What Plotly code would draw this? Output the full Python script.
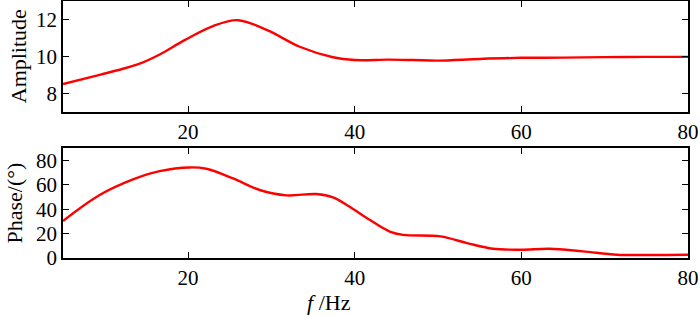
import plotly.graph_objects as go

# Amplitude curve
freq_amp = [5, 9.4, 12, 14.2, 16.6, 19.6, 23, 26, 29.5, 33.4, 37.4, 40, 44, 47, 50, 55, 60, 65, 70, 75, 80]
amplitude = [8.5, 9.0, 9.3, 9.6, 10.1, 10.88, 11.64, 11.96, 11.42, 10.52, 9.95, 9.8, 9.82, 9.8, 9.77, 9.86, 9.92, 9.93, 9.96, 9.97, 9.97]

# Phase curve
freq_ph = [5, 9.4, 13.4, 16.6, 20.2, 22.2, 25.4, 28.6, 31.8, 35.4, 37.4, 39.4, 41.8, 44.2, 45.8, 50.3, 53.5, 56.6, 60, 63.4, 67.4, 71.5, 75.4, 80]
phase = [30.4, 51.7, 64.5, 71.3, 74.3, 73.2, 65.3, 55.8, 51.4, 52.5, 49.8, 42.1, 31.3, 21.7, 19.0, 17.7, 12.2, 7.6, 6.8, 7.6, 5.4, 2.7, 2.5, 2.7]

x_ticks = [20, 40, 60, 80]
amp_ticks = [8, 10, 12]
ph_ticks = [0, 20, 40, 60, 80]

FONT = "Liberation Serif"
RED = "#ff0000"

fig = go.Figure()
fig.add_trace(go.Scatter(x=freq_amp, y=amplitude, mode="lines", line=dict(color=RED, width=2.4, shape="spline", smoothing=1.0),
                         xaxis="x", yaxis="y", showlegend=False, hoverinfo="skip"))
fig.add_trace(go.Scatter(x=freq_ph, y=phase, mode="lines", line=dict(color=RED, width=2.4, shape="spline", smoothing=1.0),
                         xaxis="x2", yaxis="y2", showlegend=False, hoverinfo="skip"))

axis_common = dict(showline=True, linecolor="black", linewidth=1.6, mirror="ticks", ticks="inside", ticklen=6,
                   tickwidth=1.3, tickcolor="black", showgrid=False, zeroline=False, automargin=False,
                   tickfont=dict(family=FONT, size=21, color="black"))

fig.update_layout(
    width=700, height=315,
    margin=dict(l=63, r=12, t=1, b=57),
    paper_bgcolor="white", plot_bgcolor="white",
    xaxis=dict(domain=[0, 1], range=[5, 80], tickvals=x_ticks, anchor="y", **axis_common),
    yaxis=dict(domain=[0.5693, 1], range=[7, 13], tickvals=amp_ticks, anchor="x", **axis_common),
    xaxis2=dict(domain=[0, 1], range=[5, 80], tickvals=x_ticks, anchor="y2", **axis_common),
    yaxis2=dict(domain=[0, 0.4268], range=[0, 90], tickvals=ph_ticks, anchor="x2", **axis_common),
    annotations=[
        dict(text="Amplitude", xref="paper", yref="paper", x=-0.072, y=0.785, xanchor="center", yanchor="middle",
             textangle=-90, showarrow=False, font=dict(family=FONT, size=22, color="black")),
        dict(text="Phase/(°)", xref="paper", yref="paper", x=-0.078, y=0.213, xanchor="center", yanchor="middle",
             textangle=-90, showarrow=False, font=dict(family=FONT, size=22, color="black")),
        dict(text="<i>f</i> /Hz", xref="paper", yref="paper", x=0.426, y=-0.172, xanchor="center", yanchor="middle",
             showarrow=False, font=dict(family=FONT, size=22, color="black")),
    ],
)

fig.write_html("out.html", config={"displayModeBar": False},
               post_script="document.body.style.margin='0';document.body.style.overflow='hidden';")
